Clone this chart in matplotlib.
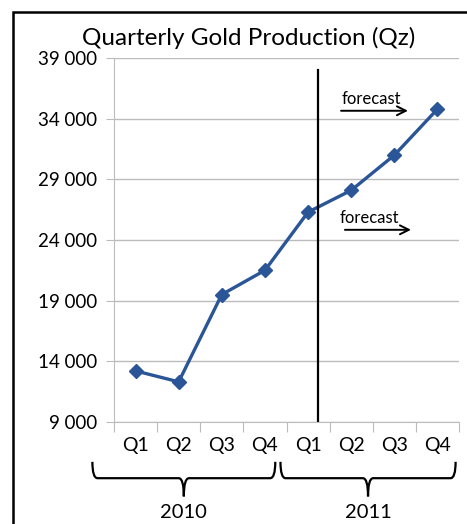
import matplotlib.pyplot as plt
from matplotlib.path import Path
from matplotlib.patches import PathPatch, Rectangle

plt.rcParams['font.family'] = ['Lato', 'DejaVu Sans']

# data
quarters = ['Q1', 'Q2', 'Q3', 'Q4', 'Q1', 'Q2', 'Q3', 'Q4']
years = ['2010', '2011']
production = [13200, 12300, 19500, 21500, 26300, 28100, 31000, 34800]
yticks = [9000, 14000, 19000, 24000, 29000, 34000, 39000]

fig = plt.figure(figsize=(4.67, 5.24), dpi=100)
ax = fig.add_axes([0.244, 0.195, 0.739, 0.694])

x = list(range(len(production)))
ax.plot(x, production, color='#2a5597', lw=2.4, marker='D', ms=7.5,
        markerfacecolor='#2a5597', markeredgecolor='#2a5597')

ax.set_xlim(-0.5, len(production) - 0.5)
ax.set_ylim(9000, 39000)
ax.set_yticks(yticks)
ax.set_yticklabels([f'{v:,}'.replace(',', ' ') for v in yticks])
ax.yaxis.grid(True, color='#bcbcbc', lw=1)
ax.set_axisbelow(True)

# ticks at category boundaries, labels at centres
ax.set_xticks([i - 0.5 for i in range(len(production) + 1)])
ax.set_xticklabels([])
ax.set_xticks(x, minor=True)
ax.set_xticklabels(quarters, minor=True)
ax.tick_params(axis='x', which='major', length=7, color='#bcbcbc')
ax.tick_params(axis='x', which='minor', length=0, pad=11, labelsize=14)
ax.tick_params(axis='y', length=6, color='#bcbcbc', labelsize=13.5, pad=6)

for s in ['top', 'right']:
    ax.spines[s].set_visible(False)
for s in ['left', 'bottom']:
    ax.spines[s].set_color('#bcbcbc')

fig.text(0.533, 0.928, 'Quarterly Gold Production (Qz)', fontsize=17.5,
         ha='center', va='center')

# divider between actual and forecast
ax.plot([4.23, 4.23], [9000, 38000], color='black', lw=1.6)

# forecast arrows
ax.annotate('', xy=(6.38, 34660), xytext=(4.7, 34660),
            arrowprops=dict(arrowstyle='->', color='black', lw=1.4,
                            mutation_scale=16))
ax.text(4.78, 35650, 'forecast', fontsize=12, va='center')
ax.annotate('', xy=(6.45, 24840), xytext=(4.79, 24840),
            arrowprops=dict(arrowstyle='->', color='black', lw=1.4,
                            mutation_scale=16))
ax.text(4.72, 25830, 'forecast', fontsize=12, va='center')

# year brackets below the axis
tr = ax.get_xaxis_transform()


def bracket(x0, x1, label):
    xm = (x0 + x1) / 2
    top, mid, bot = -0.11, -0.155, -0.205
    r = 0.12
    verts = [(x0, top), (x0, mid), (x0 + r, mid),
             (xm - r, mid), (xm, mid), (xm, bot),
             (xm, mid), (xm + r, mid),
             (x1 - r, mid), (x1, mid), (x1, top)]
    codes = [Path.MOVETO, Path.CURVE3, Path.CURVE3,
             Path.LINETO, Path.CURVE3, Path.CURVE3,
             Path.CURVE3, Path.CURVE3,
             Path.LINETO, Path.CURVE3, Path.CURVE3]
    ax.add_patch(PathPatch(Path(verts, codes), transform=tr, fill=False,
                           lw=1.6, color='black', clip_on=False))
    ax.text(xm, -0.248, label, transform=tr, ha='center', va='center',
            fontsize=14.5)


bracket(-1.0, 3.24, years[0])
bracket(3.36, 7.42, years[1])

# outer frame
fig.patches.append(Rectangle((0.028, -0.01), 1.0, 0.987, transform=fig.transFigure,
                             fill=False, lw=1.8, color='black'))

plt.savefig('out.png', dpi=100)
